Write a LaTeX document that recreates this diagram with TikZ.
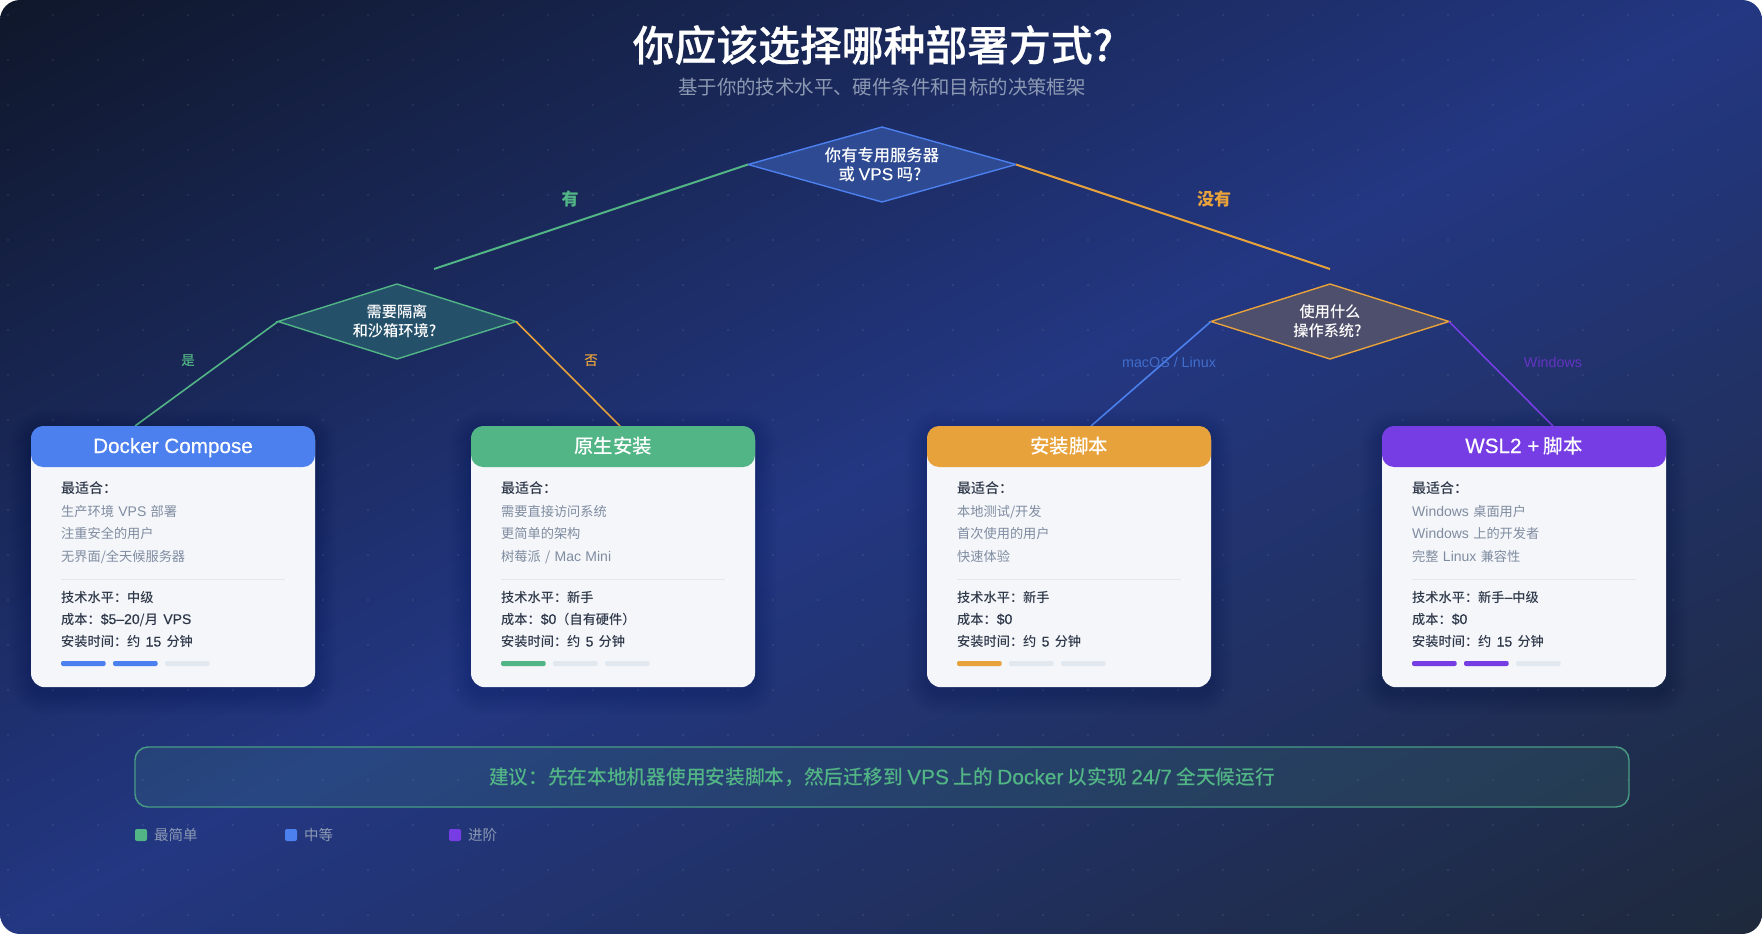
\documentclass[tikz,border=0pt]{standalone}
\usepackage{fontspec}
\usetikzlibrary{shapes.geometric}
\setmainfont{Noto Sans CJK SC}
\newfontfamily\med{Noto Sans CJK SC Medium}
\newfontfamily\heavy{Noto Sans CJK SC Medium}[FakeBold=0.6]
\newfontfamily\la{Liberation Sans}[Scale=1.06]
\newfontfamily\lam{Liberation Sans}[Scale=1.06,FakeBold=0.4]
\newcommand\itemfont{\fontsize{13.2}{16}\selectfont\spaceskip=.33em\relax}
\newcommand\statfont{\med\fontsize{13.2}{16}\selectfont\spaceskip=.4em\relax}
\definecolor{bgtop}{HTML}{0F172A}
\definecolor{bgmid}{HTML}{233782}
\definecolor{bgend}{HTML}{1E293B}
\definecolor{tgreen}{HTML}{52B585}
\definecolor{tblue}{HTML}{4C80EE}
\definecolor{torange}{HTML}{E8A23B}
\definecolor{tpurple}{HTML}{763DE4}
\definecolor{cardbg}{HTML}{F4F6FA}
\definecolor{ink}{HTML}{2D3748}
\definecolor{soft}{HTML}{7F8CA0}
\definecolor{sepline}{HTML}{E2E8F0}
\definecolor{dim}{HTML}{8C99B3}
\begin{document}
\begin{tikzpicture}[x=1pt,y=-1pt]
\tikzset{
  ask/.style={diamond, draw, line width=1.4pt, inner sep=0pt, outer sep=0pt, minimum width=238pt, minimum height=75pt, shape aspect=3.17, text=white, align=center, font=\med\fontsize{15.2}{19}\selectfont},
  branch/.style={line width=1.6pt},
  cardbody/.style={rounded corners=14pt, fill=cardbg, minimum width=284pt, minimum height=261pt, inner sep=0pt, outer sep=0pt},
  cardhead/.style={rounded corners=12pt, minimum width=284pt, minimum height=41pt, inner sep=0pt, outer sep=0pt, text=white, text height=16pt, text depth=3pt, font=\med\fontsize{19.5}{22}\selectfont},
  lefttext/.style={anchor=west, inner sep=0pt, text height=12pt, text depth=2pt},
  besttext/.style={lefttext, text=ink, font=\med\fontsize{14}{16}\selectfont},
  itemtext/.style={lefttext, text=soft, font=\itemfont},
  stattext/.style={lefttext, text=ink, font=\statfont},
  legendtext/.style={lefttext, text=dim, font=\fontsize{14.5}{16}\selectfont},
  smalllabel/.style={inner sep=0pt, font=\med\fontsize{13.5}{16}\selectfont},
  biglabel/.style={inner sep=0pt, font=\bfseries\fontsize{17}{20}\selectfont},
  legendbox/.style={rounded corners=2pt}
}
\useasboundingbox (0,0) rectangle (1762,934);
\fill[white] (0,0) rectangle (1762,934);
% background runs corner to corner
\begin{scope}
\clip[rounded corners=20pt] (0,0) rectangle (1762,934);
\shade[transform canvas={rotate around={27.93:(881,467)}}, top color=bgtop, bottom color=bgend, middle color=bgmid] (-219,-358.3) rectangle (1981,1292.3);
\end{scope}
% dot grid
\foreach \px in {0,...,38} \foreach \py in {0,...,20}
  \fill[white, opacity=0.09] (8+45*\px,15+45*\py) circle (1.2pt);

\node[inner sep=0pt, text=white, font=\heavy\fontsize{41.8}{48}\selectfont] (title) at (873,45) {你应该选择哪种部署方式?};
\node[inner sep=0pt, text=dim, font=\fontsize{19.4}{24}\selectfont] (subtitle) at (882,87) {基于你的技术水平、硬件条件和目标的决策框架};

% question nodes
\node[ask, draw=tblue, fill={rgb,255:red,45;green,74;blue,146}, minimum width=268pt, shape aspect=3.57, font=\med\fontsize{16.3}{19}\selectfont] (Q1) at (882,164.5) {你有专用服务器\\或 {\lam VPS} 吗?\kern4pt};
\node[ask, draw=tgreen, fill={rgb,255:red,37;green,80;blue,106}] (Q2) at (397,321.5) {需要隔离\\和沙箱环境?\kern5pt};
\node[ask, draw=torange, fill={rgb,255:red,78;green,79;blue,108}] (Q3) at (1330,321.5) {使用什么\\操作系统?\kern5pt};

\coordinate (E1) at (434,269);
\coordinate (E2) at (1330,269);
\coordinate (E3) at (135,426);
\coordinate (E4) at (620,426);
\coordinate (E5) at (1091,426);
\coordinate (E6) at (1553,426);
\draw[branch, tgreen, line width=2pt] (Q1.west) -- (E1);
\draw[branch, torange, line width=2pt] (Q1.east) -- (E2);
\draw[branch, tgreen] (Q2.west) -- (E3);
\draw[branch, torange] (Q2.east) -- (E4);
\draw[branch, tblue] (Q3.west) -- (E5);
\draw[branch, tpurple] (Q3.east) -- (E6);

\node[biglabel, text=tgreen] (L1) at (570,199) {有};
\node[biglabel, text=torange] (L2) at (1214,199) {没有};
\node[smalllabel, text=tgreen] (L3) at (188,361) {是};
\node[smalllabel, text=torange] (L4) at (591,361) {否};
\node[smalllabel, text=tblue!85!black] (L5) at (1169,362) {\la macOS / Linux};
\node[smalllabel, text=tpurple!85!black] (L6) at (1553,362) {\la Windows};

% cards
\foreach \n/\x/\col/\head/\ia/\ib/\ic/\lvl/\cost/\tm/\k in {
  D/31/tblue/{\lam Docker Compose}/{生产环境 {\la VPS} 部署}/{注重安全的用户}/{无界面/全天候服务器}/中级/{{\lam\$5–20}/月 {\lam VPS}}/15/2,
  N/471/tgreen/{原生安装}/{需要直接访问系统}/{更简单的架构}/{树莓派 / {\la Mac Mini}}/新手/{{\lam\$0}（自有硬件）}/5/1,
  S/927/torange/{安装脚本}/{本地测试/开发}/{首次使用的用户}/{快速体验}/新手/{{\lam\$0}}/5/1,
  W/1382/tpurple/{{\lam WSL2 +} 脚本}/{{\la Windows} 桌面用户}/{{\la Windows} 上的开发者}/{完整 {\la Linux} 兼容性}/{新手{\lam –}中级}/{{\lam\$0}}/15/2}
{
  \foreach \s in {2,4,...,22}
    \fill[black, opacity=0.007, rounded corners=14pt+\s] (\x-\s,426-\s+6) rectangle (\x+284+\s,687+\s+6);
  \node[cardbody] (card\n) at (\x+142,556.7) {};
  \node[cardhead, fill=\col] (head\n) at (\x+142,446.5) {\head};
  \node[besttext] (best\n) at (\x+30,488) {最适合：};
  \node[itemtext] (itema\n) at (\x+30,511) {\ia};
  \node[itemtext] (itemb\n) at (\x+30,533.5) {\ib};
  \node[itemtext] (itemc\n) at (\x+30,556) {\ic};
  \draw[sepline, line width=0.8pt] (\x+30,579.5) -- (\x+254,579.5);
  \node[stattext] (lvl\n) at (\x+30,597) {技术水平：\lvl};
  \node[stattext] (cost\n) at (\x+30,619) {成本：\cost};
  \node[stattext] (time\n) at (\x+30,641.5) {安装时间：约 {\lam\tm} 分钟};
  \foreach \i in {0,1,2}
    \fill[sepline, rounded corners=2pt] (\x+30+52*\i,661) rectangle (\x+74.7+52*\i,666);
  \foreach \i in {1,...,\k}
    \fill[\col, rounded corners=2pt] (\x+30+52*\i-52,661) rectangle (\x+74.7+52*\i-52,666);
}

% advice and legend
\node[rounded corners=13pt, draw=tgreen!80!bgmid, line width=1.4pt, fill=tgreen, fill opacity=0.12, text opacity=1, minimum width=1494pt, minimum height=60pt, inner sep=0pt, text=tgreen, font=\med\fontsize{19.7}{22}\selectfont] (advice) at (882,777) {建议：先在本地机器使用安装脚本，然后迁移到 {\lam VPS} 上的 {\lam Docker} 以实现 {\lam 24/7} 全天候运行};
\fill[legendbox, tgreen] (135,829) rectangle (147,841);
\node[legendtext] (easy) at (154,835) {最简单};
\fill[legendbox, tblue] (285,829) rectangle (297,841);
\node[legendtext] (mid) at (304,835) {中等};
\fill[legendbox, tpurple] (449,829) rectangle (461,841);
\node[legendtext] (hard) at (468,835) {进阶};
\end{tikzpicture}
\end{document}
